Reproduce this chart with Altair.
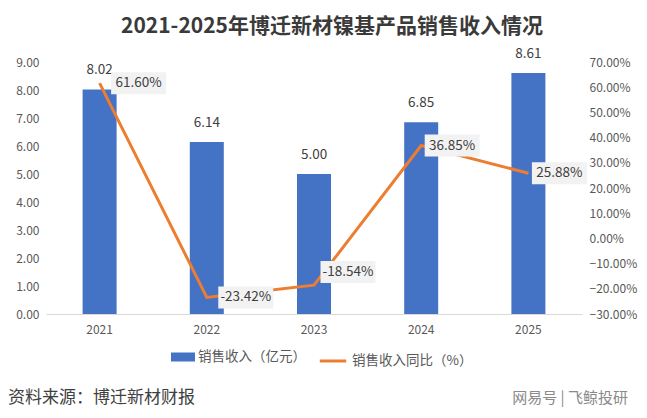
import altair as alt
import pandas as pd

years = ["2021", "2022", "2023", "2024", "2025"]
revenue = [8.02, 6.14, 5.00, 6.85, 8.61]
yoy = [61.60, -23.42, -18.54, 36.85, 25.88]
rev_ticks = [0, 1, 2, 3, 4, 5, 6, 7, 8, 9]
yoy_ticks = [-30, -20, -10, 0, 10, 20, 30, 40, 50, 60, 70]

FONT = "Noto Sans CJK SC"
BLUE = "#4472C4"
ORANGE = "#ED7D31"
GRAY = "#595959"

df = pd.DataFrame({"year": years, "revenue": revenue, "yoy": yoy})
df["rev_label"] = df["revenue"].map(lambda v: f"{v:.2f}")
df["yoy_label"] = df["yoy"].map(lambda v: f"{v:.2f}%")
df["s1"] = "销售收入（亿元）"
df["s2"] = "销售收入同比（%）"

base = alt.Chart(df)

x = alt.X(
    "year:N", title=None,
    scale=alt.Scale(paddingInner=0, paddingOuter=0),
    axis=alt.Axis(labelAngle=0, ticks=False, domainColor="#D9D9D9",
                  labelColor=GRAY, labelFontSize=12, labelPadding=10),
)

# left axis: revenue bars
y_rev = alt.Y("revenue:Q", title=None, scale=alt.Scale(domain=[0, 9]),
              axis=alt.Axis(values=rev_ticks, format=".2f", grid=False, domain=False,
                            ticks=False, labelOverlap=False, labelColor=GRAY,
                            labelFontSize=12, labelPadding=7))

bars = base.mark_bar(size=34).encode(
    x=x, y=y_rev,
    fill=alt.Fill("s1:N", scale=alt.Scale(range=[BLUE]),
                  legend=alt.Legend(title=None, orient="none", legendX=126, legendY=284,
                                    symbolType="M-1.2,-0.45H1.2V0.45H-1.2Z", symbolSize=400,
                                    labelFontSize=13.5, labelColor=GRAY, labelFont=FONT)),
)
bar_text = base.mark_text(dy=-19, fontSize=13.5, color="#404040").encode(
    x=x, y=y_rev, text="rev_label:N")

left = alt.layer(bars, bar_text)

# right axis: yoy line
y_yoy = alt.Y("yoy:Q", title=None, scale=alt.Scale(domain=[-30, 70]),
              axis=alt.Axis(orient="right", values=yoy_ticks,
                            labelExpr="format(datum.value, '.2f') + '%'",
                            grid=False, domain=False, ticks=False, labelOverlap=False,
                            labelColor=GRAY, labelFontSize=12, labelPadding=7))

line = base.mark_line(strokeWidth=3).encode(
    x=x, y=y_yoy,
    stroke=alt.Stroke("s2:N", scale=alt.Scale(range=[ORANGE]),
                      legend=alt.Legend(title=None, orient="none", legendX=272, legendY=284,
                                        symbolType="stroke", symbolSize=700, symbolStrokeWidth=3,
                                        labelFontSize=13.5, labelColor=GRAY, labelFont=FONT)),
)


def pct_labels(cond, dx, dy):
    src = base.transform_filter(cond)
    box = src.mark_point(shape="M-1,-0.4H1V0.4H-1Z", size=3025, filled=True,
                         color="#F2F2F2", opacity=1, xOffset=dx, yOffset=dy).encode(
        x=x, y=y_yoy)
    txt = src.mark_text(fontSize=13.5, color="#404040", dx=dx, dy=dy).encode(
        x=x, y=y_yoy, text="yoy_label:N")
    return [box, txt]


right = alt.layer(line,
                  *pct_labels("datum.year == '2021' || datum.year == '2022'", 39, 0),
                  *pct_labels("datum.year == '2023'", 34, -13),
                  *pct_labels("datum.year == '2024' || datum.year == '2025'", 31, 0))

notes = alt.Chart(pd.DataFrame({"src": ["资料来源：博迁新材财报"], "wm": ["网易号 | 飞鲸投研"]}))
source = notes.mark_text(align="left", fontSize=17, color="#404040", font=FONT).encode(
    x=alt.value(-38), y=alt.value(336), text="src:N")
watermark = notes.mark_text(align="right", fontSize=15, color="#8a8a8a", font=FONT).encode(
    x=alt.value(582), y=alt.value(336), text="wm:N")

chart = alt.layer(left, right, source, watermark).resolve_scale(
    y="independent"
).properties(
    width=536, height=252,
    autosize=alt.AutoSizeParams(type="none"),
    padding={"left": 38, "top": 54, "right": 57, "bottom": 96},
    title=alt.TitleParams("2021-2025年博迁新材镍基产品销售收入情况", font=FONT, fontSize=21,
                          fontWeight="bold", color="#3a3a3a", anchor="middle", offset=10, dx=18),
).configure_view(stroke=None).configure_text(font=FONT).configure_axis(labelFont=FONT)

chart.save("out.html", embed_options={"renderer": "svg", "actions": False})
